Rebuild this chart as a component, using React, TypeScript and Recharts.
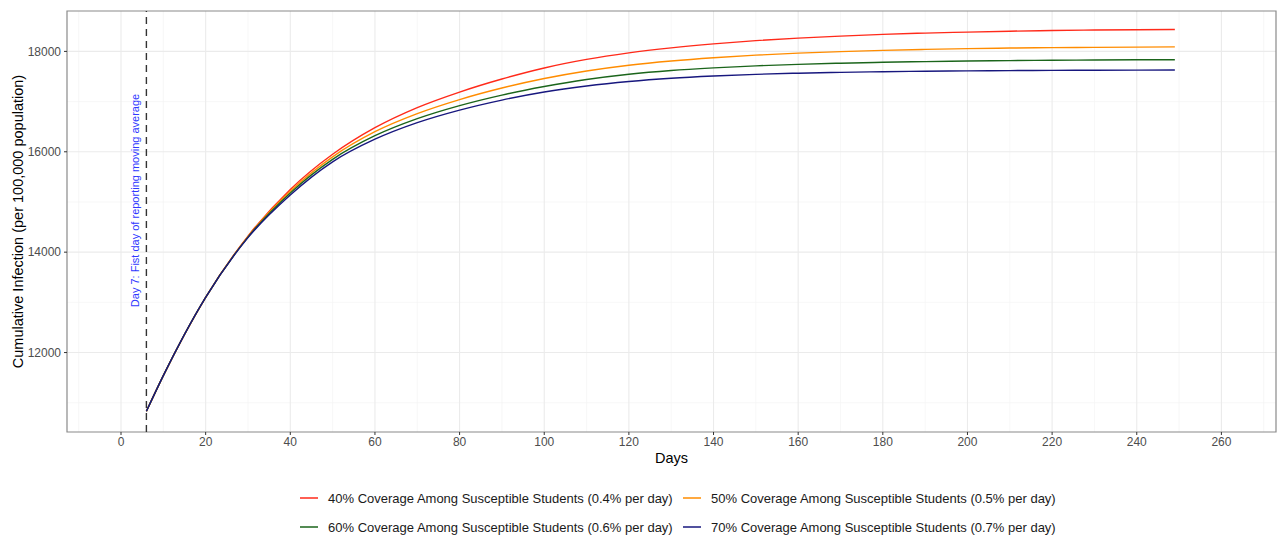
import {
  CartesianGrid,
  Line,
  LineChart,
  ReferenceArea,
  ReferenceDot,
  ReferenceLine,
  XAxis,
  YAxis,
} from "recharts";

// days since start of the simulation
const days = [
  6, 10, 20, 30, 40, 50, 60, 70, 80, 90, 100, 110, 120, 130, 140, 150, 160,
  170, 180, 190, 200, 210, 220, 230, 240, 249,
];

// cumulative infections per 100,000, one array per vaccination coverage
const cov40 = [
  10830, 11540, 13100, 14320, 15250, 15950, 16480, 16880, 17190, 17450, 17670,
  17840, 17970, 18070, 18150, 18215, 18265, 18305, 18340, 18365, 18385, 18403,
  18416, 18426, 18432, 18436,
];
const cov50 = [
  10830, 11540, 13100, 14310, 15215, 15900, 16400, 16760, 17040, 17270, 17460,
  17610, 17725, 17810, 17875, 17925, 17965, 17995, 18020, 18040, 18055, 18067,
  18075, 18081, 18086, 18090,
];
const cov60 = [
  10830, 11540, 13100, 14300, 15180, 15850, 16320, 16660, 16920, 17130, 17300,
  17440, 17545, 17620, 17672, 17712, 17742, 17765, 17783, 17797, 17808, 17817,
  17824, 17829, 17833, 17835,
];
const cov70 = [
  10830, 11540, 13100, 14290, 15140, 15800, 16250, 16580, 16830, 17030, 17190,
  17310, 17400, 17465, 17510, 17543, 17566, 17583, 17596, 17606, 17613, 17618,
  17622, 17625, 17628, 17630,
];

const seriesKeys = ["c40", "c50", "c60", "c70"];
const seriesNames = [
  "40% Coverage Among Susceptible Students (0.4% per day)",
  "50% Coverage Among Susceptible Students (0.5% per day)",
  "60% Coverage Among Susceptible Students (0.6% per day)",
  "70% Coverage Among Susceptible Students (0.7% per day)",
];
const seriesColors = ["#ff2a1a", "#ff8c00", "#1b651b", "#17177e"];

const xTicks = [0, 20, 40, 60, 80, 100, 120, 140, 160, 180, 200, 220, 240, 260];
const xMinor = [-10, 10, 30, 50, 70, 90, 110, 130, 150, 170, 190, 210, 230, 250, 270];
const yTicks = [12000, 14000, 16000, 18000];
const yMinor = [11000, 13000, 15000, 17000];

const xDomain = [-12.76, 272.9];
const yDomain = [10417, 18805];

const chartData = days.map((d, i) => ({
  day: d,
  c40: cov40[i],
  c50: cov50[i],
  c60: cov60[i],
  c70: cov70[i],
}));

const FONT = "'Liberation Sans', Arial, Helvetica, sans-serif";

function YTitle(props: any) {
  const vb = props.viewBox;
  const cy = vb.y + vb.height / 2;
  return (
    <text
      x={18}
      y={cy}
      transform={`rotate(-90, 18, ${cy})`}
      textAnchor="middle"
      dominantBaseline="central"
      fontSize={14.5}
      fill="#000"
    >
      Cumulative Infection (per 100,000 population)
    </text>
  );
}

function Annotation(props: any) {
  const vb = props.viewBox;
  const cx = vb.x + vb.width / 2;
  const cy = vb.y + vb.height / 2;
  return (
    <text
      x={cx}
      y={cy}
      transform={`rotate(-90, ${cx}, ${cy})`}
      textAnchor="middle"
      dominantBaseline="central"
      fontSize={11}
      fill="#3038ff"
    >
      Day 7: Fist day of reporting moving average
    </text>
  );
}

const legendPos = [
  { left: 300, top: 498 },
  { left: 683, top: 498 },
  { left: 300, top: 527 },
  { left: 683, top: 527 },
];

export default function App() {
  return (
    <div
      style={{
        position: "absolute",
        left: 0,
        top: 0,
        width: 1282,
        height: 538,
        background: "#fff",
        fontFamily: FONT,
      }}
    >
      <LineChart
        width={1282}
        height={538}
        data={chartData}
        margin={{ top: 11, right: 6, bottom: 0, left: 0 }}
      >
        <CartesianGrid
          stroke="#f3f3f3"
          strokeWidth={0.7}
          verticalValues={xMinor}
          horizontalValues={yMinor}
        />
        <CartesianGrid
          stroke="#ebebeb"
          strokeWidth={1.1}
          verticalValues={xTicks}
          horizontalValues={yTicks}
        />
        <XAxis
          dataKey="day"
          type="number"
          domain={xDomain}
          ticks={xTicks}
          allowDataOverflow
          height={106}
          axisLine={false}
          tickSize={3}
          tickMargin={2}
          tickLine={{ stroke: "#333333" }}
          tick={{ fontSize: 12, fill: "#4d4d4d", fontFamily: FONT }}
          label={{
            value: "Days",
            position: "insideTop",
            offset: 21,
            fontSize: 14.5,
            fill: "#000",
          }}
        />
        <YAxis
          type="number"
          domain={yDomain}
          ticks={yTicks}
          allowDataOverflow
          width={67}
          axisLine={false}
          tickSize={3}
          tickMargin={3}
          tickLine={{ stroke: "#333333" }}
          tick={{ fontSize: 12, fill: "#4d4d4d", fontFamily: FONT }}
          label={<YTitle />}
        />
        {seriesKeys.map((k, i) => (
          <Line
            key={k}
            type="monotone"
            dataKey={k}
            name={seriesNames[i]}
            stroke={seriesColors[i]}
            strokeWidth={1.4}
            dot={false}
            activeDot={false}
            isAnimationActive={false}
          />
        ))}
        <ReferenceLine
          x={6}
          stroke="#333333"
          strokeWidth={1.4}
          strokeDasharray="7 5"
        />
        <ReferenceDot
          x={3.3}
          y={15030}
          r={0}
          stroke="none"
          fill="none"
          label={<Annotation />}
        />
        <ReferenceArea
          x1={xDomain[0]}
          x2={xDomain[1]}
          y1={yDomain[0]}
          y2={yDomain[1]}
          fill="none"
          stroke="#8a8a8a"
          strokeWidth={1.2}
          ifOverflow="visible"
        />
      </LineChart>
      {seriesNames.map((name, i) => (
        <div
          key={name}
          style={{
            position: "absolute",
            left: legendPos[i].left,
            top: legendPos[i].top - 9,
            height: 18,
            display: "flex",
            alignItems: "center",
            fontSize: 13,
            color: "#1a1a1a",
            whiteSpace: "nowrap",
          }}
        >
          <svg width={18} height={18} style={{ marginRight: 10 }}>
            <line
              x1={0}
              y1={9}
              x2={18}
              y2={9}
              stroke={seriesColors[i]}
              strokeWidth={1.5}
            />
          </svg>
          <span>{name}</span>
        </div>
      ))}
    </div>
  );
}
